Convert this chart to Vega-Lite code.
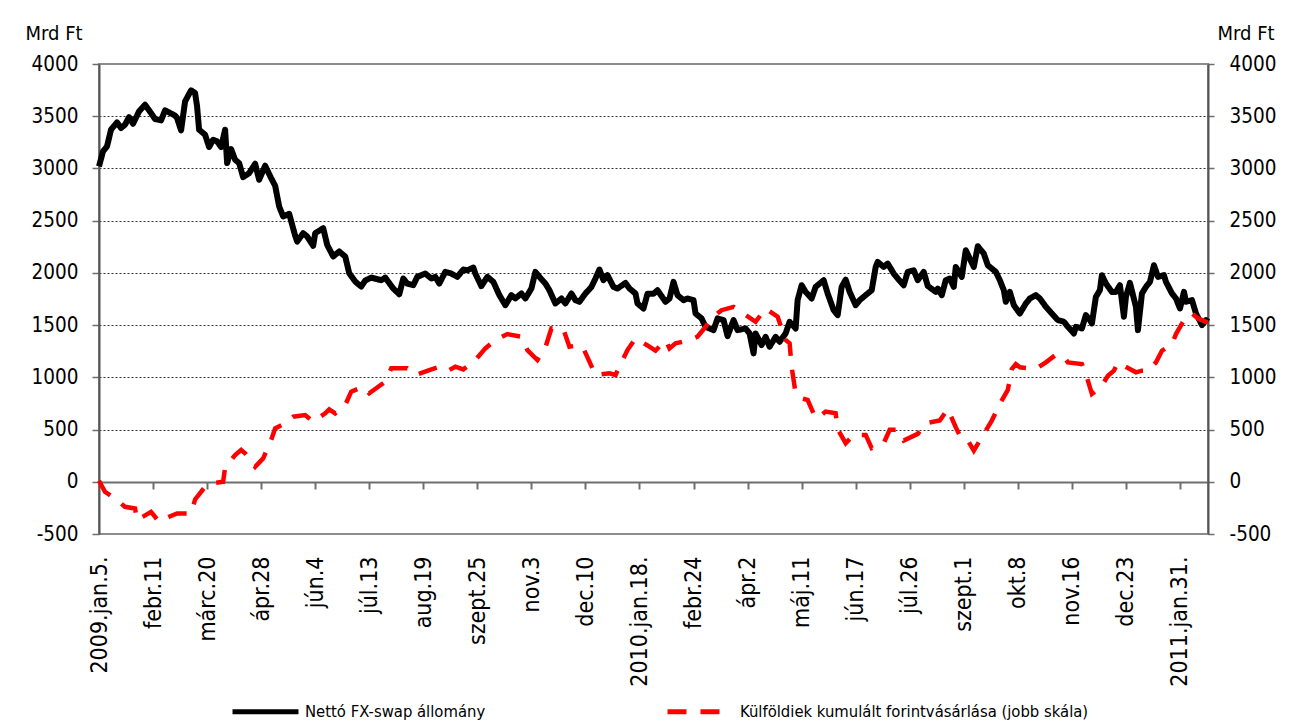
{
  "$schema": "https://vega.github.io/schema/vega-lite/v6.json",
  "width": 1109,
  "height": 470,
  "autosize": {"type": "none"},
  "padding": {"left": 99, "top": 64, "right": 85, "bottom": 192},
  "background": "white",
  "config": {
    "view": {"stroke": "#8c8c8c", "strokeWidth": 2},
    "font": "DejaVu Sans Condensed, DejaVu Sans"
  },
  "datasets": {
    "a": [
      {"t":0,"v":3020},{"t":2,"v":3163},{"t":4,"v":3211},{"t":6,"v":3371},{"t":9,"v":3441},{"t":11,"v":3387},{"t":13,"v":3419},{"t":15,"v":3492},{"t":17,"v":3428},{"t":20,"v":3546},{"t":23,"v":3610},{"t":26,"v":3530},{"t":28,"v":3473},{"t":31,"v":3460},{"t":33,"v":3556},{"t":35,"v":3537},{"t":38,"v":3505},{"t":39,"v":3483},{"t":41,"v":3364},{"t":43,"v":3642},{"t":46,"v":3748},{"t":48,"v":3722},{"t":49,"v":3594},{"t":50,"v":3371},{"t":53,"v":3323},{"t":55,"v":3205},{"t":57,"v":3275},{"t":59,"v":3259},{"t":61,"v":3205},{"t":63,"v":3371},{"t":64,"v":3051},{"t":66,"v":3185},{"t":68,"v":3083},{"t":70,"v":3051},{"t":72,"v":2917},{"t":75,"v":2955},{"t":78,"v":3045},{"t":80,"v":2892},{"t":83,"v":3026},{"t":86,"v":2907},{"t":88,"v":2834},{"t":90,"v":2636},{"t":92,"v":2540},{"t":95,"v":2566},{"t":98,"v":2355},{"t":99,"v":2300},{"t":102,"v":2380},{"t":104,"v":2348},{"t":107,"v":2259},{"t":108,"v":2380},{"t":112,"v":2428},{"t":114,"v":2268},{"t":117,"v":2157},{"t":120,"v":2205},{"t":123,"v":2157},{"t":125,"v":1997},{"t":128,"v":1917},{"t":131,"v":1869},{"t":133,"v":1927},{"t":136,"v":1955},{"t":139,"v":1940},{"t":141,"v":1930},{"t":143,"v":1955},{"t":147,"v":1850},{"t":150,"v":1796},{"t":152,"v":1946},{"t":154,"v":1898},{"t":157,"v":1882},{"t":159,"v":1962},{"t":163,"v":1994},{"t":166,"v":1946},{"t":168,"v":1962},{"t":170,"v":1898},{"t":173,"v":2010},{"t":176,"v":1994},{"t":179,"v":1962},{"t":182,"v":2032},{"t":184,"v":2025},{"t":187,"v":2051},{"t":188,"v":1994},{"t":191,"v":1873},{"t":194,"v":1962},{"t":197,"v":1914},{"t":200,"v":1787},{"t":203,"v":1691},{"t":206,"v":1787},{"t":208,"v":1755},{"t":211,"v":1803},{"t":213,"v":1755},{"t":216,"v":1850},{"t":218,"v":2010},{"t":220,"v":1962},{"t":223,"v":1898},{"t":225,"v":1834},{"t":228,"v":1707},{"t":231,"v":1755},{"t":233,"v":1707},{"t":236,"v":1803},{"t":238,"v":1739},{"t":240,"v":1723},{"t":243,"v":1803},{"t":246,"v":1866},{"t":248,"v":1946},{"t":250,"v":2032},{"t":252,"v":1930},{"t":254,"v":1978},{"t":257,"v":1866},{"t":259,"v":1850},{"t":263,"v":1904},{"t":265,"v":1850},{"t":268,"v":1803},{"t":269,"v":1707},{"t":272,"v":1659},{"t":274,"v":1800},{"t":277,"v":1800},{"t":279,"v":1834},{"t":283,"v":1723},{"t":285,"v":1755},{"t":287,"v":1914},{"t":289,"v":1787},{"t":292,"v":1739},{"t":294,"v":1755},{"t":297,"v":1739},{"t":298,"v":1611},{"t":301,"v":1564},{"t":303,"v":1484},{"t":307,"v":1452},{"t":309,"v":1564},{"t":312,"v":1548},{"t":314,"v":1395},{"t":317,"v":1548},{"t":319,"v":1452},{"t":323,"v":1468},{"t":325,"v":1420},{"t":327,"v":1229},{"t":328,"v":1420},{"t":331,"v":1309},{"t":333,"v":1388},{"t":335,"v":1293},{"t":338,"v":1388},{"t":340,"v":1341},{"t":343,"v":1420},{"t":345,"v":1532},{"t":348,"v":1468},{"t":349,"v":1739},{"t":351,"v":1882},{"t":353,"v":1818},{"t":356,"v":1755},{"t":358,"v":1866},{"t":362,"v":1930},{"t":364,"v":1803},{"t":367,"v":1643},{"t":369,"v":1596},{"t":371,"v":1866},{"t":373,"v":1936},{"t":375,"v":1818},{"t":378,"v":1691},{"t":380,"v":1739},{"t":383,"v":1787},{"t":386,"v":1834},{"t":388,"v":2057},{"t":389,"v":2105},{"t":392,"v":2057},{"t":394,"v":2089},{"t":397,"v":1994},{"t":399,"v":1946},{"t":402,"v":1882},{"t":404,"v":2010},{"t":407,"v":2025},{"t":409,"v":1930},{"t":412,"v":2010},{"t":414,"v":1875},{"t":418,"v":1818},{"t":419,"v":1850},{"t":421,"v":1787},{"t":423,"v":1930},{"t":425,"v":1946},{"t":427,"v":1866},{"t":428,"v":2057},{"t":431,"v":1962},{"t":433,"v":2217},{"t":435,"v":2137},{"t":437,"v":2057},{"t":439,"v":2255},{"t":442,"v":2185},{"t":444,"v":2073},{"t":448,"v":2010},{"t":450,"v":1930},{"t":452,"v":1834},{"t":453,"v":1723},{"t":455,"v":1818},{"t":457,"v":1691},{"t":460,"v":1611},{"t":463,"v":1707},{"t":465,"v":1755},{"t":468,"v":1787},{"t":470,"v":1755},{"t":473,"v":1675},{"t":476,"v":1611},{"t":479,"v":1548},{"t":482,"v":1532},{"t":484,"v":1484},{"t":487,"v":1420},{"t":488,"v":1484},{"t":491,"v":1468},{"t":493,"v":1596},{"t":495,"v":1548},{"t":496,"v":1516},{"t":498,"v":1771},{"t":500,"v":1834},{"t":501,"v":1978},{"t":503,"v":1898},{"t":506,"v":1818},{"t":508,"v":1818},{"t":510,"v":1882},{"t":512,"v":1580},{"t":513,"v":1771},{"t":515,"v":1904},{"t":518,"v":1675},{"t":519,"v":1452},{"t":521,"v":1803},{"t":523,"v":1866},{"t":525,"v":1914},{"t":527,"v":2073},{"t":529,"v":1962},{"t":532,"v":1978},{"t":533,"v":1914},{"t":536,"v":1803},{"t":538,"v":1755},{"t":540,"v":1659},{"t":542,"v":1818},{"t":543,"v":1723},{"t":546,"v":1739},{"t":548,"v":1611},{"t":551,"v":1500},{"t":553,"v":1548},{"t":554,"v":1530}
    ],
    "b": [
      {"t":0,"v":10},{"t":3,"v":-96},{"t":9,"v":-176},{"t":13,"v":-240},{"t":18,"v":-256},{"t":19,"v":-367},{"t":26,"v":-288},{"t":30,"v":-383},{"t":35,"v":-335},{"t":39,"v":-304},{"t":46,"v":-304},{"t":48,"v":-169},{"t":53,"v":-48},{"t":58,"v":-10},{"t":62,"v":0},{"t":63,"v":137},{"t":68,"v":256},{"t":71,"v":304},{"t":73,"v":272},{"t":78,"v":144},{"t":82,"v":224},{"t":86,"v":399},{"t":88,"v":511},{"t":93,"v":559},{"t":97,"v":623},{"t":103,"v":639},{"t":107,"v":575},{"t":113,"v":655},{"t":115,"v":693},{"t":118,"v":655},{"t":123,"v":735},{"t":126,"v":863},{"t":132,"v":911},{"t":135,"v":847},{"t":143,"v":959},{"t":146,"v":1086},{"t":154,"v":1086},{"t":158,"v":1022},{"t":165,"v":1070},{"t":171,"v":1108},{"t":175,"v":1070},{"t":178,"v":1102},{"t":182,"v":1076},{"t":188,"v":1166},{"t":193,"v":1277},{"t":198,"v":1357},{"t":204,"v":1414},{"t":211,"v":1389},{"t":214,"v":1261},{"t":219,"v":1166},{"t":223,"v":1287},{"t":226,"v":1468},{"t":232,"v":1459},{"t":235,"v":1293},{"t":240,"v":1309},{"t":242,"v":1277},{"t":245,"v":1150},{"t":248,"v":1022},{"t":255,"v":1038},{"t":258,"v":1022},{"t":260,"v":1102},{"t":264,"v":1261},{"t":268,"v":1373},{"t":274,"v":1305},{"t":278,"v":1255},{"t":283,"v":1357},{"t":285,"v":1277},{"t":288,"v":1325},{"t":295,"v":1357},{"t":299,"v":1389},{"t":303,"v":1484},{"t":306,"v":1564},{"t":311,"v":1643},{"t":317,"v":1675},{"t":322,"v":1611},{"t":328,"v":1532},{"t":333,"v":1659},{"t":339,"v":1580},{"t":343,"v":1357},{"t":345,"v":1325},{"t":346,"v":1102},{"t":347,"v":974},{"t":348,"v":847},{"t":351,"v":799},{"t":354,"v":783},{"t":358,"v":608},{"t":361,"v":640},{"t":363,"v":672},{"t":368,"v":656},{"t":369,"v":503},{"t":373,"v":369},{"t":377,"v":449},{"t":383,"v":449},{"t":386,"v":322},{"t":392,"v":369},{"t":395,"v":497},{"t":399,"v":497},{"t":402,"v":395},{"t":409,"v":459},{"t":413,"v":561},{"t":420,"v":586},{"t":424,"v":697},{"t":428,"v":522},{"t":430,"v":443},{"t":433,"v":427},{"t":437,"v":299},{"t":443,"v":490},{"t":446,"v":586},{"t":450,"v":745},{"t":454,"v":879},{"t":456,"v":1080},{"t":458,"v":1127},{"t":460,"v":1096},{"t":468,"v":1080},{"t":473,"v":1143},{"t":478,"v":1217},{"t":482,"v":1198},{"t":484,"v":1143},{"t":491,"v":1127},{"t":493,"v":1032},{"t":496,"v":841},{"t":501,"v":920},{"t":504,"v":1016},{"t":507,"v":1064},{"t":509,"v":1143},{"t":518,"v":1048},{"t":521,"v":1064},{"t":524,"v":1064},{"t":528,"v":1143},{"t":531,"v":1255},{"t":536,"v":1318},{"t":538,"v":1414},{"t":543,"v":1580},{"t":546,"v":1611},{"t":549,"v":1564},{"t":553,"v":1532},{"t":554,"v":1530}
    ]
  },
  "layer": [
    {
      "data": {"name": "a"},
      "mark": {"type": "line", "strokeWidth": 6, "strokeJoin": "round"},
      "encoding": {
        "x": {
          "field": "t", "type": "quantitative",
          "scale": {"domain": [0, 554], "nice": false, "zero": false},
          "axis": {
            "orient": "bottom", "offset": -52, "title": null,
            "values": [27,54,81,108,135,162,189,216,243,270,297,324,351,378,405,432,459,486,513,540],
            "labels": false, "grid": false,
            "domainColor": "#6e6e6e", "domainWidth": 2,
            "tickColor": "#6e6e6e", "tickWidth": 2, "tickSize": 7
          }
        },
        "y": {
          "field": "v", "type": "quantitative",
          "scale": {"domain": [-500, 4000], "nice": false, "zero": false},
          "axis": {
            "orient": "left",
            "values": [-500,0,500,1000,1500,2000,2500,3000,3500,4000],
            "labelExpr": "'' + datum.value",
            "title": "Mrd Ft", "titleAngle": 0, "titleX": -74, "titleY": -31,
            "titleAlign": "left", "titleBaseline": "middle",
            "titleFontSize": 20, "titleFontWeight": "normal", "titleColor": "black",
            "labelFontSize": 20.5, "labelColor": "black", "labelPadding": 14,
            "tickSize": 7, "tickColor": "#6e6e6e", "tickWidth": 1.5,
            "domainColor": "#555555", "domainWidth": 2,
            "grid": true, "gridDash": [2, 2], "gridColor": "#333333", "gridWidth": 1,
            "gridOpacity": {"condition": {"test": "datum.value == 4000 || datum.value == -500 || datum.value == 0", "value": 0}, "value": 1}
          }
        },
        "color": {
          "datum": "Nettó FX-swap állomány",
          "scale": {"domain": ["Nettó FX-swap állomány", "Külföldiek kumulált forintvásárlása (jobb skála)"], "range": ["#000000", "#ff0000"]},
          "legend": {
            "orient": "none", "legendX": 131, "legendY": 612,
            "direction": "horizontal", "columns": 2, "title": null,
            "symbolType": "stroke", "symbolSize": 4356, "symbolStrokeWidth": 5,
            "labelFontSize": 16.5, "labelColor": "black", "labelOffset": 4,
            "columnPadding": 171, "labelLimit": 600
          }
        },
        "strokeDash": {
          "datum": "Nettó FX-swap állomány",
          "scale": {"domain": ["Nettó FX-swap állomány", "Külföldiek kumulált forintvásárlása (jobb skála)"], "range": [[1, 0], [19, 14]]},
          "legend": null
        }
      }
    },
    {
      "data": {"name": "b"},
      "mark": {"type": "line", "strokeWidth": 4.5, "strokeCap": "butt"},
      "encoding": {
        "x": {
          "field": "t", "type": "quantitative",
          "scale": {"domain": [0, 554], "nice": false, "zero": false},
          "axis": {
            "orient": "bottom", "title": null,
            "values": [0,27,54,81,108,135,162,189,216,243,270,297,324,351,378,405,432,459,486,513,540],
            "labelExpr": "['2009.jan.5.','febr.11','márc.20','ápr.28','jún.4','júl.13','aug.19','szept.25','nov.3','dec.10','2010.jan.18.','febr.24','ápr.2','máj.11','jún.17','júl.26','szept.1','okt.8','nov.16','dec.23','2011.jan.31.'][round(datum.value / 27)]",
            "labelAngle": 270, "labelFontSize": 23, "labelColor": "black",
            "labelPadding": 22, "labelOverlap": false, "labelFlush": false, "labelBound": false,
            "ticks": false, "domain": false, "grid": false
          }
        },
        "y": {
          "field": "v", "type": "quantitative",
          "scale": {"domain": [-500, 4000], "nice": false, "zero": false},
          "axis": {
            "orient": "right",
            "values": [-500,0,500,1000,1500,2000,2500,3000,3500,4000],
            "labelExpr": "'' + datum.value",
            "title": "Mrd Ft", "titleAngle": 0, "titleX": 9, "titleY": -31,
            "titleAlign": "left", "titleBaseline": "middle",
            "titleFontSize": 20, "titleFontWeight": "normal", "titleColor": "black",
            "labelFontSize": 20.5, "labelColor": "black", "labelPadding": 15,
            "tickSize": 6, "tickColor": "#6e6e6e", "tickWidth": 1.5,
            "domainColor": "#555555", "domainWidth": 2, "grid": false
          }
        },
        "color": {"datum": "Külföldiek kumulált forintvásárlása (jobb skála)"},
        "strokeDash": {"datum": "Külföldiek kumulált forintvásárlása (jobb skála)"}
      }
    }
  ],
  "resolve": {"scale": {"x": "independent", "y": "independent"}}
}
